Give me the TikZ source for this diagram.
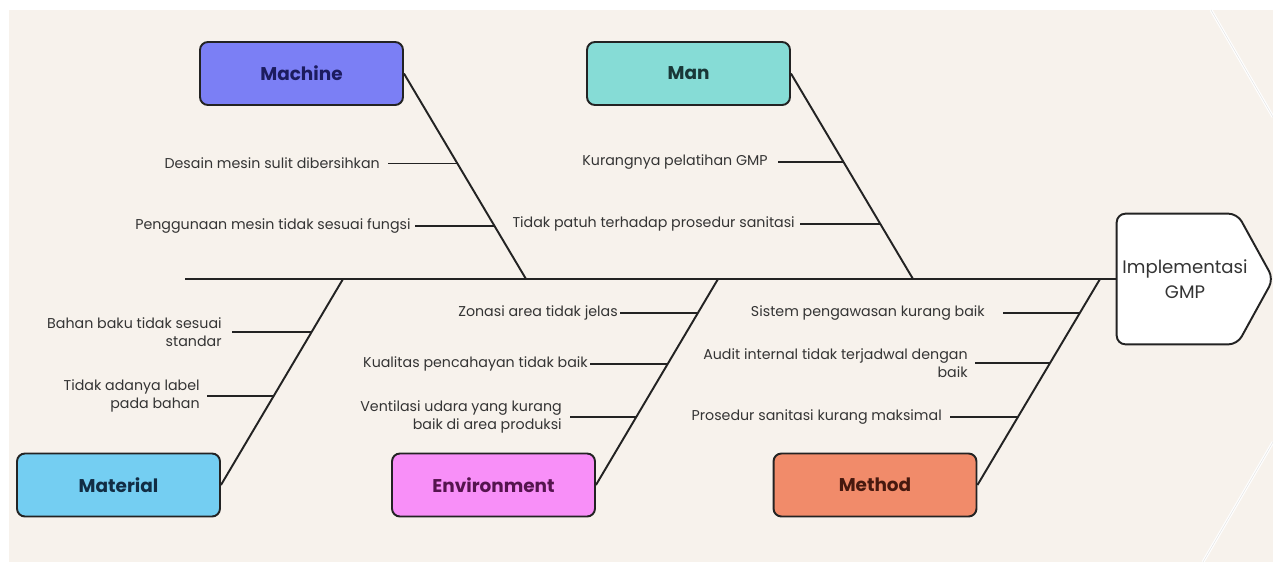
\documentclass[tikz,border=0pt]{standalone}
\usepackage{fontspec}
\setmainfont{Poppins}
\usetikzlibrary{backgrounds, calc,
positioning }
\definecolor{cream}{RGB}{247,242,236}
\definecolor{edge}{RGB}{35,35,35}
\definecolor{txt}{RGB}{52,52,52}
\definecolor{machinefill}{RGB}{123,127,245}
\definecolor{machinetxt}{RGB}{28,28,95}
\definecolor{manfill}{RGB}{134,220,214}
\definecolor{mantxt}{RGB}{25,55,55}
\definecolor{materialfill}{RGB}{116,206,242}
\definecolor{materialtxt}{RGB}{18,45,68}
\definecolor{envfill}{RGB}{248,143,248}
\definecolor{envtxt}{RGB}{85,20,78}
\definecolor{methodfill}{RGB}{241,139,106}
\definecolor{methodtxt}{RGB}{70,25,15}
\tikzset{%
  % Specifications for style of nodes:
            cat/.style = {rectangle, rounded corners=4.5pt, draw=edge,
                            line width=1.1pt, minimum width=4.06cm, minimum
                            height=1.26cm, font=\bfseries\fontsize{10.5}{12}\selectfont},
            cause/.style = {font=\fontsize{8.1}{10.2}\selectfont, text=txt,
                            inner ysep=0pt, align=right, anchor=east},
            headbox/.style = {rectangle, minimum width=2.72cm, minimum height=2.6cm,
                            text=txt, font=\fontsize{10.3}{14}\selectfont, align=center},
  % Specifications for style of lines:
            bone/.style = {draw=edge, line width=1.1pt},
            twig/.style = {draw=edge, line width=1.1pt},
            deco/.style = {draw=white, line width=1.6pt}
}

\begin{document}
\begin{tikzpicture}[x=0.02cm, y=-0.02cm]
                        \useasboundingbox (0,0) rectangle (1273,562);
                        \fill[white] (0,0) rectangle (1273,562);
                        \fill[cream] (9,10) rectangle (1273,562);
                        \draw[deco] (1211,10) -- (1273,117);
                        \draw[deco] (1273,442) -- (1203,562);
                        \draw[black!10, line width=0.3pt] (1211,10) -- (1273,117);
                        \draw[black!10, line width=0.3pt] (1273,442) -- (1203,562);
                        % head and spine
                        \node[headbox] (gmpbox) at (1185,279) {};
                        \draw[bone, fill=white, rounded corners=5pt] (gmpbox.north west) -- ([xshift=-0.32cm]gmpbox.north east)
                            -- ([xshift=0.4cm]gmpbox.east) -- ([xshift=-0.32cm]gmpbox.south east) -- (gmpbox.south west) -- cycle;
                        \node[headbox] (gmp) at (gmpbox) {Implementasi\\GMP};
                        \coordinate (tail) at (185,279);
                        \draw[bone] (tail) -- (gmpbox.west);
                        % categories
                        \node[cat, fill=machinefill, text=machinetxt] (machine) at (301.5,73.5) {Machine};
                        \node[cat, fill=manfill, text=mantxt] (man) at (688.5,73.5) {Man};
                        \node[cat, fill=materialfill, text=materialtxt] (material) at (118.5,485) {Material};
                        \node[cat, fill=envfill, text=envtxt] (environment) at (493.5,485) {Environment};
                        \node[cat, fill=methodfill, text=methodtxt] (method) at (875,485) {Method};
                        % joints on the spine
                        \coordinate (jmac) at (526,279);
                        \coordinate (jman) at (913,279);
                        \coordinate (jmat) at (343,279);
                        \coordinate (jenv) at (718,279);
                        \coordinate (jmet) at (1100,279);
                        \foreach\c/\j in {machine/jmac, man/jman, material/jmat, environment/jenv, method/jmet}{
                            \draw[bone] (\c.east) -- (\j);
                        }
                        % points on the bones
                        \path (machine.east) -- (jmac) coordinate[pos=.438] (mac1) coordinate[pos=.741] (mac2);
                        \path (man.east) -- (jman) coordinate[pos=.431] (man1) coordinate[pos=.732] (man2);
                        \path (material.east) -- (jmat) coordinate[pos=.743] (mat1) coordinate[pos=.432] (mat2);
                        \path (environment.east) -- (jenv) coordinate[pos=.835] (env1) coordinate[pos=.587] (env2) coordinate[pos=.330] (env3);
                        \path (method.east) -- (jmet) coordinate[pos=.835] (met1) coordinate[pos=.592] (met2) coordinate[pos=.330] (met3);
                        % causes
                        \foreach\n/\p/\sx/\gap/\lbl in {
                            mac1t/mac1/388/4.5/{Desain mesin sulit dibersihkan},
                            mac2t/mac2/415/2.3/{Penggunaan mesin tidak sesuai fungsi},
                            man1t/man1/778/5.7/{Kurangnya pelatihan GMP},
                            man2t/man2/800/2.8/{Tidak patuh terhadap prosedur sanitasi},
                            mat1t/mat1/232/5.7/{Bahan baku tidak sesuai\\standar},
                            mat2t/mat2/207/4/{Tidak adanya label\\pada bahan},
                            env1t/env1/620/1.1/{Zonasi area tidak jelas},
                            env2t/env2/590/1.1/{Kualitas pencahayan tidak baik},
                            env3t/env3/570/4.5/{Ventilasi udara yang kurang\\baik di area produksi},
                            met1t/met1/1003/10.2/{Sistem pengawasan kurang baik},
                            met2t/met2/975/4/{Audit internal tidak terjadwal dengan\\baik},
                            met3t/met3/950/4.5/{Prosedur sanitasi kurang maksimal}}{
                            \node[cause, inner xsep=\gap pt] (\n) at (\sx,0 |- \p) {\lbl};
                            \draw[twig] (\n.east) -- (\p);
                        }
                    \end{tikzpicture}
\end{document}
